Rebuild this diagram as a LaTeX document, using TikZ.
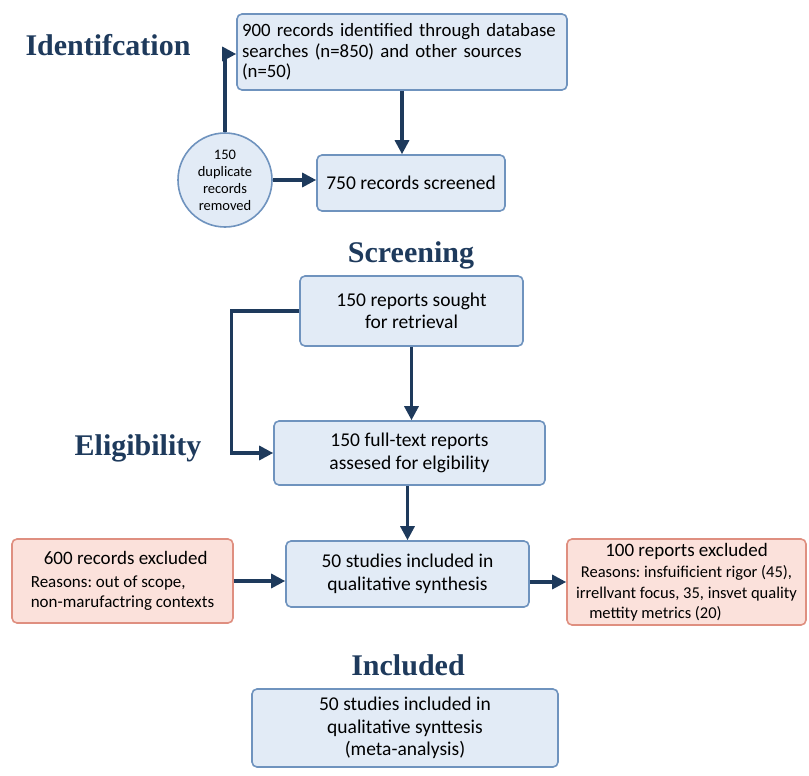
\documentclass[tikz,border=0pt]{standalone}
\usepackage{fontspec}
\setmainfont{Carlito}
\newfontfamily\headfont{Liberation Serif}
\usetikzlibrary{arrows.meta}
\definecolor{boxfill}{HTML}{E2EBF6}
\definecolor{boxline}{HTML}{6F93BE}
\definecolor{redfill}{HTML}{FBE1DB}
\definecolor{redline}{HTML}{DF8F80}
\definecolor{navy}{HTML}{1E3A5C}
\tikzset{
  bbox/.style={draw=boxline, fill=boxfill, line width=1.6pt, rounded corners=5pt, align=center, font=\fontsize{19.5}{22.5}\selectfont, inner sep=0pt},
  rbox/.style={draw=redline, fill=redfill, line width=1.6pt, rounded corners=5pt, align=center, inner sep=0pt, font=\frenchspacing\fontsize{17}{20.5}\selectfont},
  head/.style={text=navy, font=\headfont\bfseries\fontsize{30}{34}\selectfont},
  arr/.style={-{Triangle[length=14pt,width=14pt]}, draw=navy, line width=3.2pt}
}
\begin{document}
\begin{tikzpicture}[x=1pt,y=-1pt]
\useasboundingbox (0,0) rectangle (809,776);
\node [head] (h1) at (108,45) {Identifcation};
\node [head] (h2) at (411,255) {Screening};
\node [head] (h3) at (138,448) {Eligibility};
\node [head] (h4) at (408,665) {Included};
\node [bbox, minimum width=330, minimum height=76, text width=320, align=left, font=\fontsize{18.8}{20.5}\selectfont] (b1) at (402,52) {900 records identified through database\\searches (n=850) and other sources\\(n=50)};
\node [bbox, minimum width=188, minimum height=56] (b2) at (411,183) {750 records screened};
\node [bbox, circle, minimum size=94, font=\fontsize{14.5}{17}\selectfont] (c1) at (225,180) {150\\duplicate\\records\\removed};
\node [bbox, minimum width=223, minimum height=70] (b3) at (411.5,311) {150 reports sought\\for retrieval};
\node [bbox, minimum width=271, minimum height=64] (b4) at (409.5,453) {150 full-text reports\\assesed for elgibility};
\node [bbox, minimum width=243, minimum height=66] (b5) at (407.5,574) {50 studies included in\\qualitative synthesis};
\node [rbox, minimum width=221, minimum height=84, align=left] (r1) at (122.5,581) {\hspace*{13pt}{\fontsize{19}{21}\selectfont 600 records excluded}\\[2pt]Reasons: out of scope,\\non-marufactring contexts};
\node [rbox, minimum width=239, minimum height=86, font=\frenchspacing\fontsize{16.5}{20.5}\selectfont] (r2) at (686.5,582) {{\fontsize{19}{21}\selectfont 100 reports excluded}\\[1pt]Reasons: insfuificient rigor (45),\\irrellvant focus, 35, insvet quality\\\hspace*{-62pt}mettity metrics (20)};
\node [bbox, minimum width=306, minimum height=78] (b6) at (405,728) {50 studies included in\\qualitative synttesis\\(meta-analysis)};
% arrows
\draw [arr] (b1.south) -- (b1.south |- b2.north);
\draw [arr] (c1.north) |- ([yshift=-2pt]b1.west);
\draw [arr] (c1) -- (c1 -| b2.west);
\draw [arr] (b3) -- (b3 |- b4.north);
\draw [arr] (b3.west) -- ++(-68,0) |- (b4.west);
\draw [arr] (b4.south -| b5) -- (b5.north);
\draw [arr] (r1.east) -- (r1.east -| b5.west);
\draw [arr] (b5.east |- r2.west) -- (r2.west);
\end{tikzpicture}
\end{document}
